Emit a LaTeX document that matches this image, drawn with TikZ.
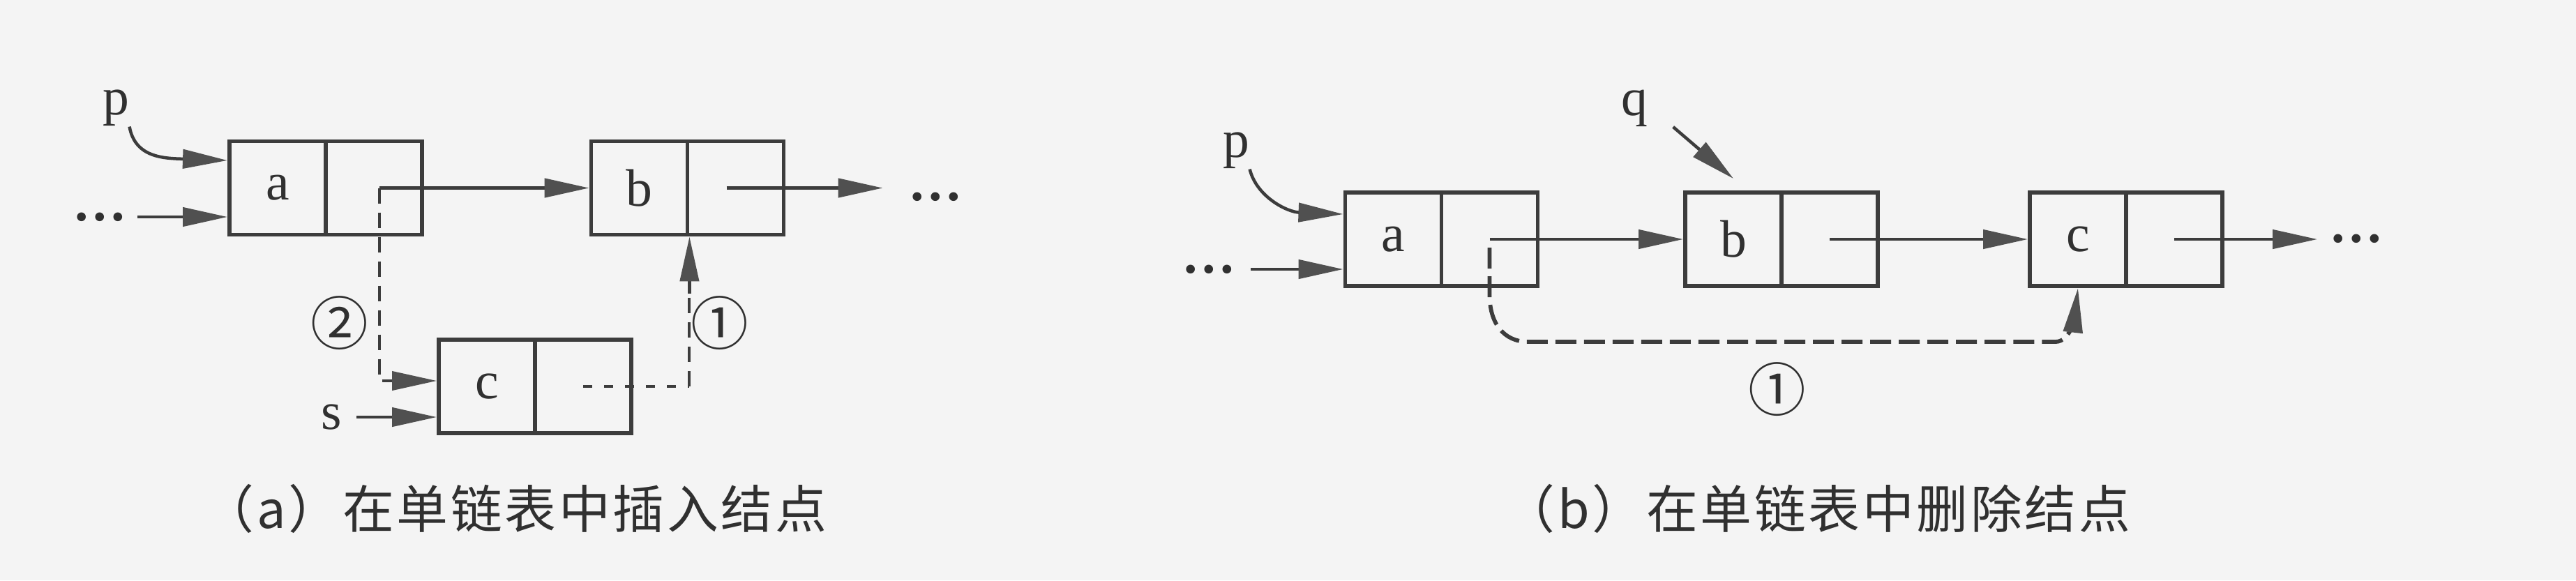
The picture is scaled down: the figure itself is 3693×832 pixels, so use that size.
\documentclass[tikz,border=0pt]{standalone}
\usepackage{fontspec}
\setmainfont{Liberation Serif}
\newfontfamily\cjkfont[LetterSpace=5]{Noto Sans CJK SC}
\newfontfamily\circfont{Noto Sans CJK SC}
\usetikzlibrary{arrows.meta,calc}
\definecolor{bgcol}{HTML}{F4F4F4}
\definecolor{linecol}{HTML}{3C3C3C}
\definecolor{headcol}{HTML}{505050}
\definecolor{textcol}{HTML}{303030}
\begin{document}
\begin{tikzpicture}[x=0.01cm,y=-0.01cm,
  cell/.style={draw=linecol,line width=0.058cm,minimum width=1.38cm,minimum height=1.34cm,inner sep=0pt,text=textcol,font=\fontsize{21.5pt}{25pt}\selectfont},
  lab/.style={inner sep=0pt,text=textcol,font=\fontsize{21.5pt}{25pt}\selectfont},
  dotlab/.style={inner sep=0pt,text=textcol,font=\bfseries\fontsize{22pt}{25pt}\selectfont},
  circlab/.style={inner sep=0pt,text=textcol,font=\circfont\fontsize{23.5pt}{27pt}\selectfont},
  captext/.style={inner sep=0pt,text=textcol,font=\cjkfont\fontsize{21pt}{25pt}\selectfont},
  ahead/.style={-{Triangle[length=0.64cm,width=0.27cm,color=headcol]}},
  arr/.style={draw=linecol,line width=0.045cm,ahead},
  adash/.style={draw=linecol,line width=0.04cm,dash pattern=on 0.22cm off 0.13cm},
  adot/.style={draw=linecol,line width=0.045cm,dash pattern=on 0.13cm off 0.17cm},
  bdash/.style={draw=linecol,line width=0.058cm,dash pattern=on 0.3cm off 0.11cm}
]
\fill[bgcol] (0,0) rectangle (3693,832);
\useasboundingbox (0,0) rectangle (3693,832);

% ---------- panel (a) ----------
\node[cell] (A1) at (398,269.5) {a};
\node[cell] (A2) at (536,269.5) {};
\node[cell] (B1) at (916.5,269.5) {b};
\node[cell] (B2) at (1054.5,269.5) {};
\node[cell] (C1) at (698,554) {c};
\node[cell] (C2) at (836,554) {};
\node[lab] (pA) at (166,155) {p};
\node[lab] (sA) at (475,598) {s};
\node[dotlab] (dA1) at (143,311) {…};
\node[dotlab] (dA2) at (1341,282) {…};
\node[circlab] (n2) at (487,463) {②};
\node[circlab] (n1a) at (1032,463) {①};

\coordinate (aP) at ([xshift=0.08cm]A2.center);
\draw[arr] (pA.south east) .. controls +(8,45) and +(-90,-3) .. ([yshift=0.395cm]A1.west);
\draw[arr,shorten <=0.15cm] (dA1.east) -- (dA1.east -| A1.west);
\draw[arr] (aP) -- (aP -| B1.west);
\draw[arr,shorten >=0.36cm] ([xshift=-0.13cm]B2.center) -- (B2.center -| dA2.west);
\draw[arr,shorten <=0.21cm] (sA.east) -- (sA.east -| C1.west);
\draw[adash,ahead] (aP) |- ([yshift=0.08cm]C1.west);
\coordinate (k1) at (C2.center -| B1.south east);
\draw[adot] (C2.center) -- (k1);
\coordinate (k2) at ($(k1)+(0,-133)$);
\draw[adash] (k1) -- (k2);
\draw[arr] (k2) -- (B1.south east);

\node[captext] (capA) at (738,729) {（a）在单链表中插入结点};

% ---------- panel (b) ----------
\node[cell] (A1b) at (1997.5,343) {a};
\node[cell] (A2b) at (2135.5,343) {};
\node[cell] (B1b) at (2485,343) {b};
\node[cell] (B2b) at (2623,343) {};
\node[cell] (C1b) at (2979,343) {c};
\node[cell] (C2b) at (3117,343) {};
\node[lab] (pB) at (1772,216) {p};
\node[lab] (qB) at (2343,155) {q};
\node[dotlab] (dB1) at (1733,386) {…};
\node[dotlab] (dB2) at (3378,342) {…};
\node[circlab] (n1b) at (2548,558) {①};

\draw[arr] (pB.south east) .. controls +(10,40) and +(-80,-3) .. ([yshift=0.36cm]A1b.west);
\draw[arr,shorten <=0.21cm] (dB1.east) -- (dB1.east -| A1b.west);
\draw[arr] (A2b.center) -- (B1b.west);
\draw[arr] (B2b.center) -- (C1b.west);
\draw[arr,shorten >=0.165cm] (C2b.center) -- (C2b.center -| dB2.west);
\draw[arr] ([xshift=0.36cm]qB.south east) -- ([yshift=0.17cm]B1b.north);

\coordinate (bot) at (0,490);
\coordinate (b0) at ($(A2b.center)+(0,80)$);
\coordinate (bl) at (A2b.center |- bot);
\coordinate (br) at (C1b.south |- bot);
\draw[bdash,ahead,shorten <=0.12cm] (A2b.center) -- (b0)
  .. controls +(0,40) and +(-35,0) .. ($(bl)+(55,0)$)
  -- ($(br)+(-32,0)$)
  .. controls +(22,0) and +(-4,35) .. (C1b.south);

\node[captext] (capB) at (2605,729) {（b）在单链表中删除结点};
\end{tikzpicture}
\end{document}
